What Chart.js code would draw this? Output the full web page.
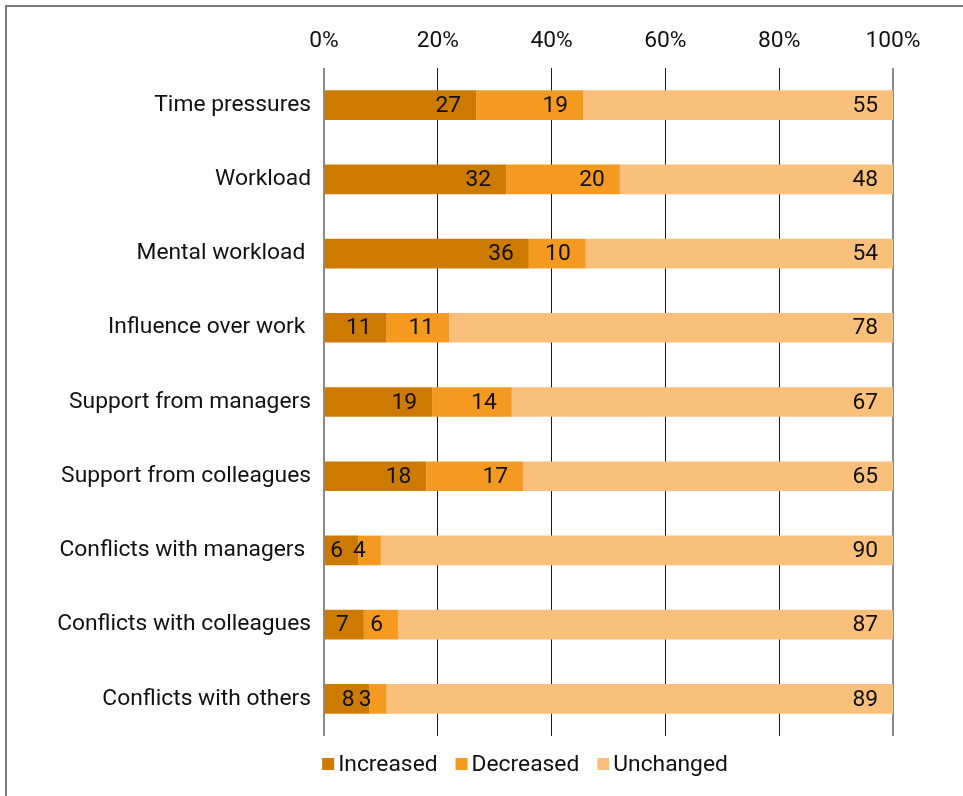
<!DOCTYPE html>
<html>
<head>
<meta charset="utf-8">
<script src="https://cdn.jsdelivr.net/npm/chart.js@4.4.1/dist/chart.umd.min.js"></script>
<style>
  html, body { margin: 0; padding: 0; background: #fff; overflow: hidden; }
  #frame { position: absolute; left: 5px; top: 5px; width: 2000px; height: 2000px;
           border-left: 2px solid #7a7a7a; border-top: 2px solid #7a7a7a; }
  #wrap { position: absolute; left: 0; top: 0; width: 963px; height: 796px; }
</style>
</head>
<body>
<div id="frame"></div>
<div id="wrap"><canvas id="myChart"></canvas></div>
<script>
// categories (trailing spaces are part of the original labels)
const categories = [
  'Time pressures', 'Workload', 'Mental workload ', 'Influence over work ',
  'Support from managers', 'Support from colleagues', 'Conflicts with managers ',
  'Conflicts with colleagues', 'Conflicts with others'
];
const increased = [27, 32, 36, 11, 19, 18, 6, 7, 8];
const decreased = [19, 20, 10, 11, 14, 17, 4, 6, 3];
const unchanged = [55, 48, 54, 78, 67, 65, 90, 87, 89];
const tickLabels = ['0%', '20%', '40%', '60%', '80%', '100%'];

const seriesNames = ['Increased', 'Decreased', 'Unchanged'];
const seriesColors = ['#cd7b00', '#f49a20', '#f9c07b'];
const rawSeries = [increased, decreased, unchanged];

// each row is drawn as a share of its own total
const totals = categories.map((c, i) => increased[i] + decreased[i] + unchanged[i]);
const shares = rawSeries.map(s => s.map((v, i) => v / totals[i] * 100));

const FONT_SIZE = 22.8;
const FONT = { family: 'Roboto', size: FONT_SIZE };
const CSS_FONT = FONT_SIZE + 'px Roboto';
const TEXT = '#111111';

// value labels at the inner end of every segment
const valueLabels = {
  id: 'valueLabels',
  afterDatasetsDraw(chart) {
    const ctx = chart.ctx;
    ctx.save();
    ctx.font = CSS_FONT;
    ctx.fillStyle = TEXT;
    ctx.textAlign = 'right';
    ctx.textBaseline = 'middle';
    chart.data.datasets.forEach((ds, d) => {
      chart.getDatasetMeta(d).data.forEach((bar, i) => {
        ctx.fillText(String(ds.raw[i]), bar.x - 15, bar.y + 1);
      });
    });
    ctx.restore();
  }
};

// compact legend under the plot
const bottomLegend = {
  id: 'bottomLegend',
  afterDraw(chart) {
    const ctx = chart.ctx;
    ctx.save();
    ctx.font = CSS_FONT;
    ctx.textBaseline = 'middle';
    const box = 12, gap = 4, spacing = 18, cy = 764;
    const widths = seriesNames.map(n => ctx.measureText(n).width);
    let total = widths.reduce((a, w) => a + box + gap + w, 0) + spacing * (seriesNames.length - 1);
    let x = 525 - total / 2;
    seriesNames.forEach((n, i) => {
      ctx.fillStyle = seriesColors[i];
      ctx.fillRect(x, cy - box / 2, box, box);
      ctx.fillStyle = TEXT;
      ctx.textAlign = 'left';
      ctx.fillText(n, x + box + gap, cy + 1);
      x += box + gap + widths[i] + spacing;
    });
    ctx.restore();
  }
};

function draw() {
  Chart.defaults.font.family = 'Roboto';
  Chart.defaults.font.size = FONT_SIZE;
  Chart.defaults.color = TEXT;

  new Chart(document.getElementById('myChart'), {
    type: 'bar',
    data: {
      labels: categories,
      datasets: seriesNames.map((name, k) => ({
        label: name,
        data: shares[k],
        raw: rawSeries[k],
        backgroundColor: seriesColors[k],
        borderWidth: 0,
        categoryPercentage: 1,
        barPercentage: 0.4
      }))
    },
    options: {
      indexAxis: 'y',
      responsive: true,
      maintainAspectRatio: false,
      animation: false,
      layout: { padding: { top: 0, right: 70, bottom: 60, left: 0 } },
      scales: {
        x: {
          position: 'top',
          stacked: true,
          min: 0,
          max: 100,
          border: { display: false },
          grid: {
            drawTicks: false,
            color: c => (c.index === 0 || c.index === 5) ? '#8a8a8a' : '#1a1a1a',
            lineWidth: c => (c.index === 0 || c.index === 5) ? 2 : 1
          },
          ticks: {
            stepSize: 20,
            padding: 13,
            font: FONT,
            maxRotation: 0,
            callback: (v) => tickLabels[v / 20]
          },
          afterFit: (scale) => { scale.height = 68; }
        },
        y: {
          stacked: true,
          border: { display: false },
          grid: { display: false, drawTicks: false },
          ticks: { padding: 13, font: FONT },
          afterFit: (scale) => { scale.width = 324; }
        }
      },
      plugins: {
        legend: { display: false },
        tooltip: { enabled: false }
      }
    },
    plugins: [valueLabels, bottomLegend]
  });
}

document.fonts.load(CSS_FONT).then(draw, draw);
</script>
</body>
</html>
